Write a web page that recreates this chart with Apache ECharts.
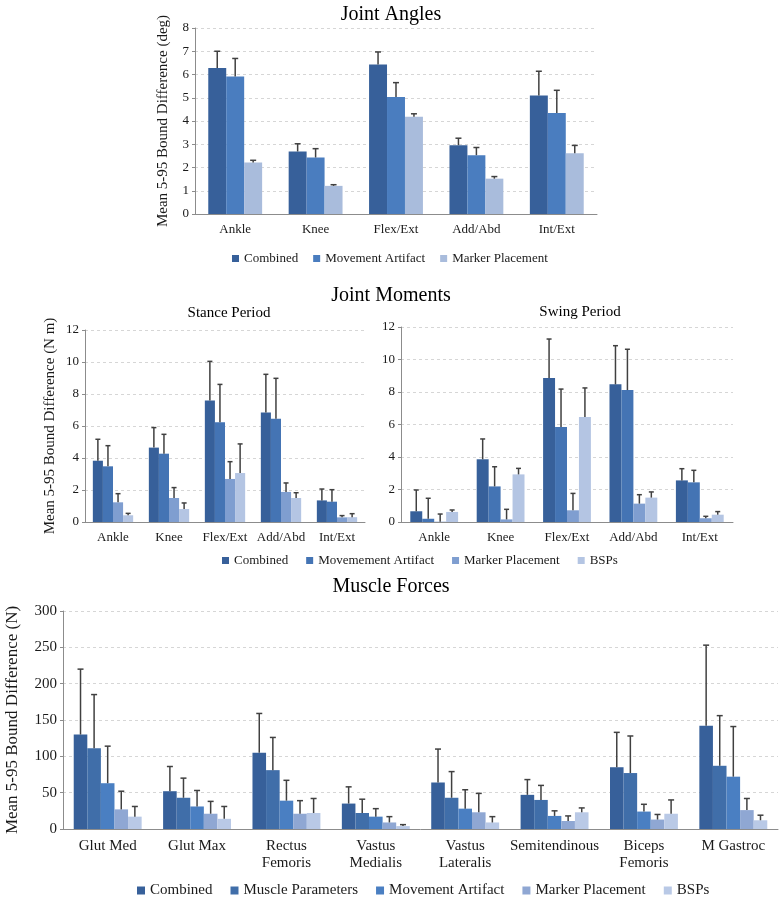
<!DOCTYPE html>
<html><head><meta charset="utf-8">
<script src="https://cdn.jsdelivr.net/npm/echarts/dist/echarts.min.js"></script>
<style>html,body{margin:0;padding:0;background:#fff;} .c{position:absolute;left:0;width:782px;}</style>
</head><body>
<div id="a" class="c" style="top:0;height:275px"></div>
<div id="b" class="c" style="top:275px;height:295px"></div>
<div id="m" class="c" style="top:570px;height:330px"></div>
<script>
// ---------- Joint Angles ----------
var angleCats = ['Ankle', 'Knee', 'Flex/Ext', 'Add/Abd', 'Int/Ext'];
var angCombined = [6.28, 2.69, 6.43, 2.96, 5.10];
var angCombinedErr = [7.00, 3.02, 6.97, 3.26, 6.14];
var angMovement = [5.91, 2.43, 5.03, 2.53, 4.34];
var angMovementErr = [6.69, 2.81, 5.65, 2.86, 5.32];
var angMarker = [2.21, 1.21, 4.18, 1.52, 2.61];
var angMarkerErr = [2.31, 1.26, 4.31, 1.61, 2.95];

// ---------- Joint Moments ----------
var momentCats = ['Ankle', 'Knee', 'Flex/Ext', 'Add/Abd', 'Int/Ext'];
var stCombined = [3.83, 4.65, 7.60, 6.85, 1.35];
var stCombinedErr = [5.17, 5.90, 10.04, 9.23, 2.06];
var stMovement = [3.48, 4.27, 6.23, 6.46, 1.27];
var stMovementErr = [4.77, 5.48, 8.60, 8.98, 2.02];
var stMarker = [1.23, 1.50, 2.69, 1.88, 0.29];
var stMarkerErr = [1.77, 2.15, 3.77, 2.44, 0.40];
var stBSP = [0.42, 0.81, 3.06, 1.50, 0.30];
var stBSPErr = [0.54, 1.19, 4.88, 1.83, 0.52];

var swCombined = [0.66, 3.86, 8.86, 8.47, 2.56];
var swCombinedErr = [1.97, 5.11, 11.26, 10.85, 3.28];
var swMovement = [0.20, 2.19, 5.85, 8.12, 2.44];
var swMovementErr = [1.46, 3.40, 8.18, 10.63, 3.18];
var swMarker = [0.02, 0.16, 0.72, 1.13, 0.23];
var swMarkerErr = [0.49, 0.78, 1.76, 1.68, 0.35];
var swBSP = [0.62, 2.93, 6.46, 1.50, 0.45];
var swBSPErr = [0.74, 3.30, 8.25, 1.85, 0.64];

// ---------- Muscle Forces ----------
var muscleCats = ['Glut Med', 'Glut Max', 'Rectus\nFemoris', 'Vastus\nMedialis', 'Vastus\nLateralis', 'Semitendinous', 'Biceps\nFemoris', 'M Gastroc'];
var mfCombined = [130, 52, 105, 35, 64, 47, 85, 142];
var mfCombinedErr = [220, 86, 159, 58, 110, 68, 133, 253];
var mfMuscle = [111, 43, 81, 22, 43, 40, 77, 87];
var mfMuscleErr = [185, 70, 126, 41, 79, 60, 128, 156];
var mfMovement = [63, 31, 39, 17, 28, 18, 24, 72];
var mfMovementErr = [114, 53, 67, 28, 54, 25, 34, 141];
var mfMarker = [27, 21, 21, 9, 23, 11, 13, 26];
var mfMarkerErr = [52, 38, 39, 17, 49, 18, 20, 42];
var mfBSP = [17, 14, 22, 4, 9, 23, 21, 12];
var mfBSPErr = [31, 31, 42, 6, 17, 29, 40, 19];

var F = "'Liberation Serif', 'Times New Roman', serif";
var TXT = '#1a1a1a';
var AX = '#8c8c8c';
var ERR = '#404040';

function barSeries(name, data, color, xi, yi, gap) {
  return { type: 'bar', name: name, data: data, xAxisIndex: xi || 0, yAxisIndex: yi || 0,
    barGap: '0%', barCategoryGap: gap, itemStyle: { color: color }, silent: true };
}
function errSeries(vals, errs, idx, n, gap, cap, xi, yi) {
  var g = parseFloat(gap) / 100;
  return {
    type: 'custom', name: 'err' + idx, xAxisIndex: xi || 0, yAxisIndex: yi || 0, silent: true, z: 5,
    data: vals.map(function (v, i) { return [i, v, errs[i]]; }),
    encode: { x: 0, y: [1, 2] },
    renderItem: function (params, api) {
      var i = api.value(0);
      var b = api.coord([i, api.value(1)]);
      var t = api.coord([i, api.value(2)]);
      var band = api.size([1, 0])[0];
      var group = band * (1 - g);
      var bw = group / n;
      var x = b[0] - group / 2 + (idx + 0.5) * bw;
      var st = { stroke: ERR, lineWidth: 1.5 };
      return { type: 'group', children: [
        { type: 'line', shape: { x1: x, y1: b[1], x2: x, y2: t[1] }, style: st },
        { type: 'line', shape: { x1: x - cap / 2, y1: t[1], x2: x + cap / 2, y2: t[1] }, style: st }
      ] };
    }
  };
}
function xAx(cats, fs, margin, gi) {
  return { type: 'category', data: cats, gridIndex: gi || 0,
    axisLine: { lineStyle: { color: AX } },
    axisTick: { length: 4, lineStyle: { color: AX } },
    axisLabel: { fontFamily: F, fontSize: fs, color: TXT, margin: margin, interval: 0, lineHeight: fs + 2 } };
}
function yAx(max, interval, name, fs, nfs, gap, gi) {
  return { type: 'value', min: 0, max: max, interval: interval, gridIndex: gi || 0,
    name: name, nameLocation: 'middle', nameGap: gap,
    nameTextStyle: { fontFamily: F, fontSize: nfs, color: TXT },
    axisLine: { show: true, lineStyle: { color: AX } },
    axisTick: { show: true, length: 3, lineStyle: { color: AX } },
    splitLine: { lineStyle: { color: '#d6d6d6', type: [3, 3] } },
    axisLabel: { fontFamily: F, fontSize: fs, color: TXT, margin: 6 } };
}
function legend(names, top, left, fs, sz, gap) {
  return { top: top, left: left, itemWidth: sz, itemHeight: sz, itemGap: gap, icon: 'rect', padding: 0,
    selectedMode: false, textStyle: { fontFamily: F, fontSize: fs, color: TXT }, data: names };
}
function titleStyle(fs) { return { fontFamily: F, fontSize: fs, fontWeight: 'normal', color: '#000' }; }

// Chart A
var gA = '33%';
var cA = ['#37609a', '#4a7dbf', '#a9bcdc'];
var chartA = echarts.init(document.getElementById('a'));
chartA.setOption({
  animation: false,
  title: { text: 'Joint Angles', left: 'center', top: 5, padding: 0, textStyle: titleStyle(20) },
  grid: { left: 195, top: 28, width: 402, height: 186, outerBoundsMode: 'none' },
  legend: legend(['Combined', 'Movement Artifact', 'Marker Placement'], 252, 232, 13, 7, 15),
  xAxis: xAx(angleCats, 13, 8),
  yAxis: yAx(8, 1, 'Mean 5-95 Bound Difference (deg)', 13, 15, 24),
  series: [
    barSeries('Combined', angCombined, cA[0], 0, 0, gA),
    barSeries('Movement Artifact', angMovement, cA[1], 0, 0, gA),
    barSeries('Marker Placement', angMarker, cA[2], 0, 0, gA),
    errSeries(angCombined, angCombinedErr, 0, 3, gA, 6),
    errSeries(angMovement, angMovementErr, 1, 3, gA, 6),
    errSeries(angMarker, angMarkerErr, 2, 3, gA, 6)
  ]
});

// Chart B
var gB = '28%';
var cB = ['#37609a', '#4474b4', '#7f9ed0', '#b4c5e3'];
var chartB = echarts.init(document.getElementById('b'));
chartB.setOption({
  animation: false,
  title: [
    { text: 'Joint Moments', left: 'center', top: 11, padding: 0, textStyle: titleStyle(20) },
    { text: 'Stance Period', left: 229, textAlign: 'center', top: 31, padding: 0, textStyle: titleStyle(15) },
    { text: 'Swing Period', left: 580, textAlign: 'center', top: 30, padding: 0, textStyle: titleStyle(15) }
  ],
  grid: [
    { left: 85, top: 55, width: 280, height: 192, outerBoundsMode: 'none' },
    { left: 401, top: 52, width: 332, height: 195, outerBoundsMode: 'none' }
  ],
  legend: legend(['Combined', 'Movemement Artifact', 'Marker Placement', 'BSPs'], 279, 222, 13, 7, 18),
  xAxis: [xAx(momentCats, 13, 8, 0), xAx(momentCats, 13, 8, 1)],
  yAxis: [yAx(12, 2, 'Mean 5-95 Bound Difference (N m)', 13, 15, 27, 0), yAx(12, 2, '', 13, 15, 27, 1)],
  series: [
    barSeries('Combined', stCombined, cB[0], 0, 0, gB),
    barSeries('Movemement Artifact', stMovement, cB[1], 0, 0, gB),
    barSeries('Marker Placement', stMarker, cB[2], 0, 0, gB),
    barSeries('BSPs', stBSP, cB[3], 0, 0, gB),
    barSeries('Combined', swCombined, cB[0], 1, 1, gB),
    barSeries('Movemement Artifact', swMovement, cB[1], 1, 1, gB),
    barSeries('Marker Placement', swMarker, cB[2], 1, 1, gB),
    barSeries('BSPs', swBSP, cB[3], 1, 1, gB),
    errSeries(stCombined, stCombinedErr, 0, 4, gB, 5, 0, 0),
    errSeries(stMovement, stMovementErr, 1, 4, gB, 5, 0, 0),
    errSeries(stMarker, stMarkerErr, 2, 4, gB, 5, 0, 0),
    errSeries(stBSP, stBSPErr, 3, 4, gB, 5, 0, 0),
    errSeries(swCombined, swCombinedErr, 0, 4, gB, 5, 1, 1),
    errSeries(swMovement, swMovementErr, 1, 4, gB, 5, 1, 1),
    errSeries(swMarker, swMarkerErr, 2, 4, gB, 5, 1, 1),
    errSeries(swBSP, swBSPErr, 3, 4, gB, 5, 1, 1)
  ]
});

// Chart C
var gC = '24%';
var cC = ['#37609a', '#406ea9', '#4a7fc2', '#8fa7d3', '#b9c9e6'];
var chartC = echarts.init(document.getElementById('m'));
chartC.setOption({
  animation: false,
  title: { text: 'Muscle Forces', left: 'center', top: 7, padding: 0, textStyle: titleStyle(20) },
  grid: { left: 63, top: 41, width: 715, height: 218, outerBoundsMode: 'none' },
  legend: legend(['Combined', 'Muscle Parameters', 'Movement Artifact', 'Marker Placement', 'BSPs'], 313, 137, 15, 8, 18),
  xAxis: xAx(muscleCats, 15, 9),
  yAxis: yAx(300, 50, 'Mean 5-95 Bound Difference (N)', 15, 17, 42),
  series: [
    barSeries('Combined', mfCombined, cC[0], 0, 0, gC),
    barSeries('Muscle Parameters', mfMuscle, cC[1], 0, 0, gC),
    barSeries('Movement Artifact', mfMovement, cC[2], 0, 0, gC),
    barSeries('Marker Placement', mfMarker, cC[3], 0, 0, gC),
    barSeries('BSPs', mfBSP, cC[4], 0, 0, gC),
    errSeries(mfCombined, mfCombinedErr, 0, 5, gC, 6),
    errSeries(mfMuscle, mfMuscleErr, 1, 5, gC, 6),
    errSeries(mfMovement, mfMovementErr, 2, 5, gC, 6),
    errSeries(mfMarker, mfMarkerErr, 3, 5, gC, 6),
    errSeries(mfBSP, mfBSPErr, 4, 5, gC, 6)
  ]
});
</script>
</body></html>
